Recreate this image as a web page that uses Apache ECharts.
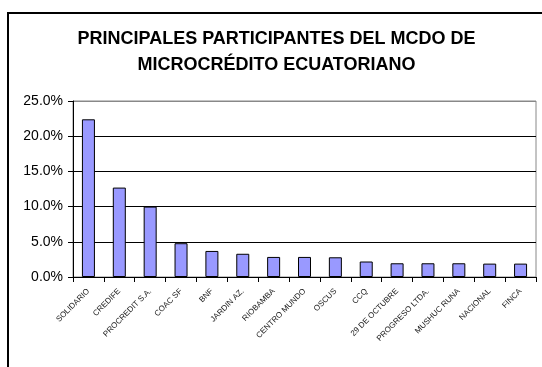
<!DOCTYPE html>
<html>
<head>
<meta charset="utf-8">
<script src="https://cdn.jsdelivr.net/npm/echarts@6/dist/echarts.min.js"></script>
<style>
  html, body { margin: 0; padding: 0; background: #fff; }
  #chart { width: 542px; height: 367px; }
</style>
</head>
<body>
<div id="chart"></div>
<script>
// participantes (nombres ilegibles en el original, aproximados)
const participantes = [
  'SOLIDARIO', 'CREDIFE', 'PROCREDIT S.A.', 'COAC SF', 'BNF',
  'JARDIN AZ.', 'RIOBAMBA', 'CENTRO MUNDO', 'OSCUS', 'CCQ',
  '29 DE OCTUBRE', 'PROGRESO LTDA.', 'MUSHUC RUNA', 'NACIONAL', 'FINCA'
];
// participación en el mercado (fracción)
const participacion = [
  0.224, 0.127, 0.100, 0.048, 0.037,
  0.033, 0.0285, 0.0285, 0.028, 0.022,
  0.0195, 0.0195, 0.0195, 0.019, 0.019
];
const titulo = ['PRINCIPALES PARTICIPANTES DEL MCDO DE', 'MICROCRÉDITO ECUATORIANO'];
const FONT = '"Liberation Sans", Arial, sans-serif';

const chart = echarts.init(document.getElementById('chart'));

chart.setOption({
  animation: false,
  backgroundColor: '#fff',
  graphic: [{
    // marco exterior del gráfico
    type: 'rect',
    shape: { x: 8, y: 13, width: 560, height: 380 },
    style: { fill: 'none', stroke: '#000', lineWidth: 2 },
    silent: true
  }, {
    // título en dos líneas, centrado sobre el área del gráfico
    type: 'text',
    x: 276.5, y: 26,
    style: {
      text: titulo.join('\n'),
      align: 'center', verticalAlign: 'top',
      font: 'bold 18px ' + FONT, lineHeight: 26, fill: '#000'
    },
    silent: true
  }],
  grid: {
    left: 73, right: 6, top: 101, bottom: 90,
    show: true, borderColor: '#888', borderWidth: 1
  },
  xAxis: {
    type: 'category',
    data: participantes,
    axisLine: { lineStyle: { color: '#000', width: 1 } },
    axisTick: { show: true, alignWithLabel: false, length: 5, lineStyle: { color: '#000' } },
    axisLabel: {
      interval: 0, rotate: 45, fontSize: 8, fontFamily: FONT, color: '#222', margin: 13
    }
  },
  yAxis: {
    type: 'value',
    min: 0, max: 0.25, interval: 0.05,
    axisLine: { show: true, lineStyle: { color: '#000', width: 1 } },
    axisTick: { show: true, length: 5, lineStyle: { color: '#000' } },
    axisLabel: {
      fontSize: 14, fontFamily: FONT, color: '#000', margin: 10,
      formatter: v => (v * 100).toFixed(1) + '%'
    },
    splitLine: {
      show: true,
      lineStyle: { color: ['#000', '#000', '#000', '#000', '#000', '#888'], width: 1 }
    }
  },
  series: [{
    type: 'bar',
    data: participacion,
    barWidth: 13,
    itemStyle: { color: '#9999ff', borderColor: '#000', borderWidth: 1 }
  }]
});
</script>
</body>
</html>
